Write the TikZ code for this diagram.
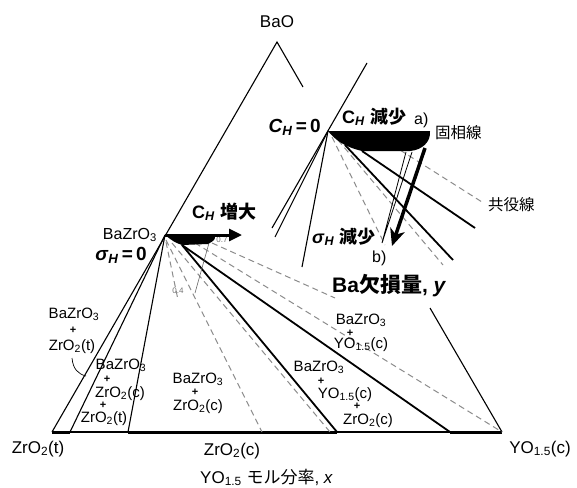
\documentclass[tikz,border=0pt]{standalone}
\usepackage{fontspec}
\setmainfont{Liberation Sans}
\newfontfamily\jp{Noto Sans CJK JP}
\usetikzlibrary{arrows.meta}
\newcommand\sbs[1]{\textsubscript{#1}}
\begin{document}
\begin{tikzpicture}[x=1pt,y=-1pt,
  edge/.style={line width=1.1pt},
  tieline/.style={line width=1.8pt},
  conj/.style={line width=1pt, draw=black!45, dash pattern=on 6pt off 4pt},
  phase/.style={line width=3pt},
  lab/.style={inner sep=0pt, anchor=base, font=\fontsize{15}{15}\selectfont},
  plus/.style={inner sep=0pt, font=\fontsize{11}{11}\selectfont\bfseries},
  corner/.style={inner sep=0pt, anchor=base, font=\fontsize{17}{17}\selectfont},
  hdr/.style={inner sep=0pt, anchor=base west, font=\fontsize{18}{18}\selectfont\bfseries},
  jpl/.style={inner sep=0pt, anchor=west, font=\fontsize{15.5}{15.5}\selectfont\jp},
  tiny/.style={inner sep=0pt, text=black!55, font=\fontsize{8}{8}\selectfont},
]
\useasboundingbox[fill=white] (0,0) rectangle (577,487);
% main triangle
\coordinate (A) at (277,42);
\coordinate (Zt) at (52,432);
\coordinate (Yc) at (502,432);
\coordinate (Rtop) at (303,87);
\coordinate (Rbot) at (430,308);
\coordinate (BZ) at (165,235);
\coordinate (p1) at (70,432);
\coordinate (p2) at (128,432);
\coordinate (p3) at (337,432);
\coordinate (p4) at (450,432);
\coordinate (q1) at (262,432);
\coordinate (q2) at (330,432);
\coordinate (T0) at (182,245);
\draw[edge] (Zt) -- (A) -- (Rtop);
\draw[edge] (Rbot) -- (Yc);
\draw[edge] (Zt) -- (Yc);
\draw[phase] (Zt) -- (p1);
\draw[phase] (p2) -- (p3);
\draw[phase] (p4) -- (Yc);
\draw[edge] (BZ) -- (p1);
\draw[edge] (BZ) -- (p2);
% conjugate (dashed) lines
\coordinate (c1) at (166,240);
\coordinate (c2) at (172,243);
\coordinate (c3) at (195,243);
\coordinate (c4) at (212,243);
\coordinate (c4e) at (335,298);
\coordinate (c5) at (166,242);
\coordinate (c5e) at (178,300);
\draw[conj] (c1) -- (q1);
\draw[conj] (c2) -- (q2);
\draw[conj] (c3) -- (Yc);
\draw[conj] (c4) -- (c4e);
\draw[conj] (c5) -- (c5e);
% tie lines
\draw[tieline] (T0) -- (p3);
\draw[tieline] (T0) -- (p4);
% small contour
\coordinate (k1) at (209,243);
\coordinate (k2) at (195,293);
\draw[line width=0.6pt, black!60] (k1) -- (k2);
\node[tiny] (n04) at (178,291) {0.4};
\node[tiny] (n07) at (222,240) {0.7};
% wedge + arrow at BaZrO3
\fill (165,235) -- (215,235) .. controls (215,240) .. (208,244) -- (182,245) .. controls (174,242) .. (165,235);
\coordinate (CHend) at (242,235);
\draw[line width=3pt, -{Triangle[length=13pt,width=12pt]}] (BZ) -- (CHend);

% inset
\coordinate (V) at (328,131);
\coordinate (e1) at (367,63);
\coordinate (e2) at (272,228);
\coordinate (e3) at (275,237);
\coordinate (e4) at (302,267);
\draw[edge] (e1) -- (e2);
\draw[edge] (V) -- (e3);
\draw[edge] (V) -- (e4);
\coordinate (d1s) at (332,137); \coordinate (d1e) at (385,245);
\coordinate (d2s) at (338,140); \coordinate (d2e) at (443,265);
\coordinate (d3s) at (400,150); \coordinate (d3e) at (482,202);
\draw[conj] (d1s) -- (d1e);
\draw[conj] (d2s) -- (d2e);
\draw[conj] (d3s) -- (d3e);
\coordinate (s1s) at (345,145); \coordinate (s1e) at (453,260);
\coordinate (s2s) at (362,151); \coordinate (s2e) at (475,228);
\draw[tieline] (s1s) -- (s1e);
\draw[tieline] (s2s) -- (s2e);
\fill (V) -- (430,131) .. controls (431,142) and (422,150) .. (410,151) -- (362,151) .. controls (345,147) and (335,140) .. (V);
% arrows a) -> b)
\coordinate (ta) at (406,152); \coordinate (tb) at (382,243); \coordinate (tc) at (412,152);
\draw[line width=0.8pt] (ta) -- (tb) -- (tc);
\coordinate (Aa) at (425,148); \coordinate (Ab) at (392,246);
\draw[line width=3.5pt, -{Stealth[length=17pt,width=15pt,inset=5pt]}] (Aa) -- (Ab);

% labels
\node[corner] (lBaO) at (277,28) {BaO};
\node[corner] (lZt) at (38,453) {ZrO\sbs{2}(t)};
\node[corner] (lZc) at (232,455) {ZrO\sbs{2}(c)};
\node[corner] (lYc) at (540,453) {YO\sbs{1.5}(c)};
\node[corner, anchor=base west] (lx) at (200,483) {YO\sbs{1.5} {\jp モル分率}, \textit{x}};

\node[inner sep=0pt, anchor=base east, font=\fontsize{16}{16}\selectfont] (lBZ) at (157,239) {BaZrO\sbs{3}};
\node[inner sep=0pt, anchor=base east, font=\fontsize{19}{19}\selectfont\bfseries] (sig0) at (147,260) {\textit{σ}\sbs{\textit{H}}\,=\,0};
\node[hdr] (CHinc) at (192,218) {C\sbs{\textit{H}} {\jp 増大}};
\node[inner sep=0pt, anchor=base east, font=\fontsize{19}{19}\selectfont\bfseries] (CH0) at (321,132) {\textit{C}\sbs{\textit{H}}\,=\,0};
\node[hdr] (CHdec) at (342,123) {C\sbs{\textit{H}} {\jp 減少}};
\node[inner sep=0pt, anchor=base west, font=\fontsize{16}{16}\selectfont] (la) at (414,124) {a)};
\node[jpl] (solid) at (435,133) {固相線};
\node[jpl] (conjl) at (488,205) {共役線};
\node[hdr] (sigdec) at (312,243) {\textit{σ}\sbs{\textit{H}} {\jp 減少}};
\node[inner sep=0pt, anchor=base west, font=\fontsize{16}{16}\selectfont] (lb) at (372,262) {b)};
\node[inner sep=0pt, anchor=base west, font=\fontsize{21}{21}\selectfont\bfseries] (ydef) at (332,292) {Ba{\jp 欠損量}, \textit{y}};

% region labels
\node[lab] (r1a) at (74,318) {BaZrO\sbs{3}};
\node[plus] (r1b) at (73,330) {+};
\node[lab] (r1c) at (72,350) {ZrO\sbs{2}(t)};
\coordinate (lead1) at (72,358); \coordinate (lead2) at (86,376);
\draw[line width=0.7pt] (lead1) .. controls (73,369) and (78,374) .. (lead2);

\node[lab] (r2a) at (121,369) {BaZrO\sbs{3}};
\node[plus] (r2b) at (107,379) {+};
\node[lab] (r2c) at (120,397) {ZrO\sbs{2}(c)};
\node[plus] (r2d) at (103,405) {+};
\node[lab] (r2e) at (104,422) {ZrO\sbs{2}(t)};

\node[lab] (r3a) at (198,383) {BaZrO\sbs{3}};
\node[plus] (r3b) at (195,392) {+};
\node[lab] (r3c) at (198,410) {ZrO\sbs{2}(c)};

\node[lab] (r4a) at (319,371) {BaZrO\sbs{3}};
\node[plus] (r4b) at (321,381) {+};
\node[lab] (r4c) at (345,398) {YO\sbs{1.5}(c)};
\node[plus] (r4d) at (357,406) {+};
\node[lab] (r4e) at (368,424) {ZrO\sbs{2}(c)};

\node[lab] (r5a) at (361,324) {BaZrO\sbs{3}};
\node[plus] (r5b) at (350,333) {+};
\node[lab] (r5c) at (361,348) {YO\sbs{1.5}(c)};
\end{tikzpicture}
\end{document}
